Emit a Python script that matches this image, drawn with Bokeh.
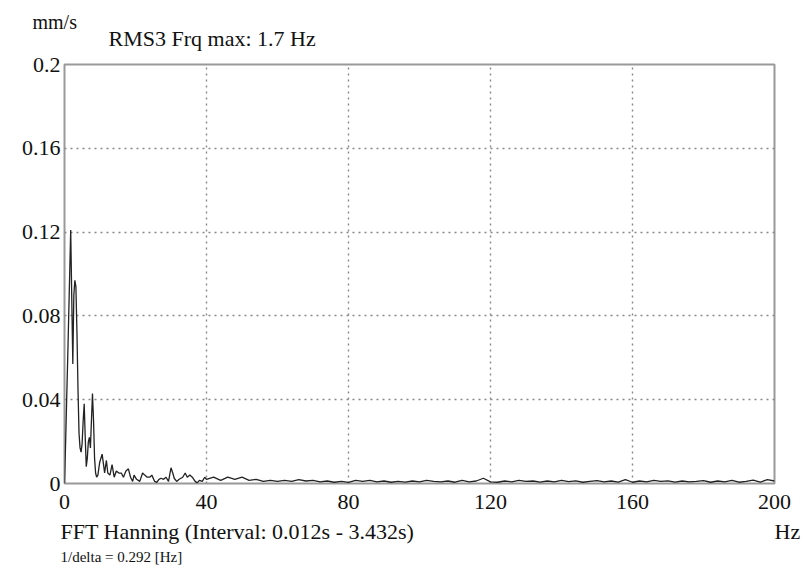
from bokeh.plotting import figure
from bokeh.models import Range1d, FixedTicker, Title, LinearAxis, Label
from bokeh.embed import file_html
from bokeh.resources import INLINE

# ---- data ----
freq_low = [0.00, 0.29, 0.58, 0.88, 1.17, 1.46, 1.75, 2.05, 2.34, 2.63, 2.92, 3.21,
            3.51, 3.80, 4.09, 4.38, 4.67, 4.96, 5.26, 5.55, 5.84, 6.13, 6.42, 6.72,
            7.01, 7.30, 7.59, 7.88, 8.18, 8.47, 8.76, 9.05]
amp_low = [0.000, 0.018, 0.038, 0.058, 0.079, 0.100, 0.121, 0.088, 0.057, 0.090, 0.097, 0.094,
           0.072, 0.045, 0.024, 0.017, 0.015, 0.019, 0.030, 0.038, 0.022, 0.008, 0.012, 0.020,
           0.022, 0.017, 0.030, 0.043, 0.030, 0.012, 0.005, 0.003]

freq_mid = [9.4, 9.9, 10.6, 11.0, 11.3, 11.8, 12.2, 12.8, 13.4, 14.0, 14.6, 15.3, 16.0, 16.6,
            17.3, 18.0, 18.6, 19.2, 19.6, 20.3, 21.2, 22.0, 22.6, 23.3, 24.0, 24.6, 25.4, 26.0,
            26.6, 27.2, 27.9, 28.6, 29.3, 30.0, 30.5, 30.9, 31.6, 32.3, 33.3, 34.0, 34.6, 35.3,
            36.0, 36.8, 37.4, 38.0, 38.8, 39.5]
amp_mid = [0.004, 0.010, 0.014, 0.009, 0.005, 0.011, 0.005, 0.004, 0.009, 0.003, 0.006, 0.005,
           0.005, 0.003, 0.006, 0.007, 0.003, 0.001, 0.004, 0.002, 0.001, 0.005, 0.004, 0.003,
           0.003, 0.004, 0.001, 0.0005, 0.002, 0.0025, 0.002, 0.003, 0.001, 0.0075, 0.005, 0.0025,
           0.001, 0.002, 0.003, 0.005, 0.003, 0.004, 0.003, 0.001, 0.0003, 0.0015, 0.001, 0.003]

freq_tail = [40, 42, 44, 46, 48, 50, 52, 54, 56, 58, 60, 62, 64, 66, 68, 70, 72, 74, 76, 78,
             80, 82, 84, 86, 88, 90, 92, 94, 96, 98, 100, 102, 104, 106, 108, 110, 112, 114,
             116, 118, 120, 122, 124, 126, 128, 130, 132, 134, 136, 138, 140, 142, 144, 146,
             148, 150, 152, 154, 156, 158, 160, 162, 164, 166, 168, 170, 172, 174, 176, 178,
             180, 182, 184, 186, 188, 190, 192, 194, 196, 198, 200]
amp_tail = [0.002, 0.003, 0.0015, 0.003, 0.002, 0.003, 0.0015, 0.002, 0.001, 0.0015, 0.001,
            0.0015, 0.001, 0.0018, 0.0012, 0.0015, 0.0008, 0.0012, 0.0006, 0.001, 0.0005,
            0.0015, 0.001, 0.0015, 0.0008, 0.0012, 0.0006, 0.001, 0.0007, 0.0012, 0.0008,
            0.0015, 0.001, 0.0008, 0.0012, 0.0006, 0.0015, 0.0008, 0.0012, 0.0025, 0.0008,
            0.0006, 0.0012, 0.0008, 0.0015, 0.001, 0.0012, 0.0007, 0.0012, 0.0008, 0.0015,
            0.0009, 0.0013, 0.0006, 0.001, 0.0014, 0.0008, 0.0012, 0.0007, 0.0018, 0.0006,
            0.0012, 0.0008, 0.0015, 0.001, 0.0013, 0.0007, 0.0012, 0.0008, 0.001, 0.0014,
            0.0006, 0.0012, 0.0008, 0.0015, 0.0006, 0.001, 0.0016, 0.0007, 0.0018, 0.0012]

x_ticks = [0, 40, 80, 120, 160, 200]
y_ticks = [0, 0.04, 0.08, 0.12, 0.16, 0.2]
y_tick_labels = ["0", "0.04", "0.08", "0.12", "0.16", "0.2"]

freq = freq_low + freq_mid + freq_tail
amp = amp_low + amp_mid + amp_tail

FONT = "Liberation Serif"
INK = "#111111"

p = figure(width=806, height=574, output_backend="svg", toolbar_location=None,
           x_range=Range1d(0, 200), y_range=Range1d(0, 0.2),
           min_border_left=64, min_border_right=32, min_border_top=64, min_border_bottom=91)
p.background_fill_color = "white"
p.border_fill_color = "white"
p.outline_line_color = "#999999"
p.outline_line_width = 2

p.line(freq, amp, line_color="#222222", line_width=1.3)

p.xaxis.ticker = FixedTicker(ticks=x_ticks)
p.yaxis.ticker = FixedTicker(ticks=y_ticks)
p.yaxis.major_label_overrides = {t: s for t, s in zip(y_ticks, y_tick_labels)}
p.xaxis.major_label_overrides = {t: str(t) for t in x_ticks}

# second row under the tick labels: the caption
FFT_POS = 48.7   # horizontal position (data units) of the caption's centre
cap_axis = LinearAxis(ticker=FixedTicker(ticks=[FFT_POS]),
                      major_label_overrides={FFT_POS: "FFT Hanning (Interval: 0.012s - 3.432s)"})
p.add_layout(cap_axis, "below")

for ax in (p.xaxis[0], cap_axis, p.yaxis[0]):
    ax.axis_line_color = None
    ax.major_tick_line_color = None
    ax.minor_tick_line_color = None
    ax.major_tick_out = 0
    ax.major_tick_in = 0
    ax.major_label_text_font = FONT
    ax.major_label_text_font_size = "22px"
    ax.major_label_text_color = INK
p.xaxis[0].major_label_standoff = 11
cap_axis.major_label_standoff = 7
p.yaxis[0].major_label_standoff = 4

p.grid.grid_line_color = "#888888"
p.grid.grid_line_dash = "2 4"
p.grid.grid_line_width = 1.4

# texts above the frame, placed in the top side panels (screen offsets from each panel)
p.add_layout(Label(text="RMS3 Frq max: 1.7 Hz", x=44, y=26, x_units="screen", y_units="screen",
                   text_font=FONT, text_font_size="22px", text_color=INK,
                   text_align="left", text_baseline="alphabetic"), "above")
p.add_layout(Label(text="mm/s", x=-32, y=18, x_units="screen", y_units="screen",
                   text_font=FONT, text_font_size="20px", text_color=INK,
                   text_align="left", text_baseline="alphabetic"), "above")
# unit of the x axis, in the right side panel (offset from the panel's lower left corner)
p.add_layout(Label(text="Hz", x=0, y=-48, x_units="screen", y_units="screen",
                   text_font=FONT, text_font_size="22px", text_color=INK,
                   text_align="left", text_baseline="alphabetic"), "right")
p.add_layout(Title(text="1/delta = 0.292 [Hz]", align="left", offset=-4, standoff=0,
                   text_font=FONT, text_font_size="15px", text_font_style="normal",
                   text_color=INK), "below")

open("out.html", "w").write(file_html(p, INLINE))
